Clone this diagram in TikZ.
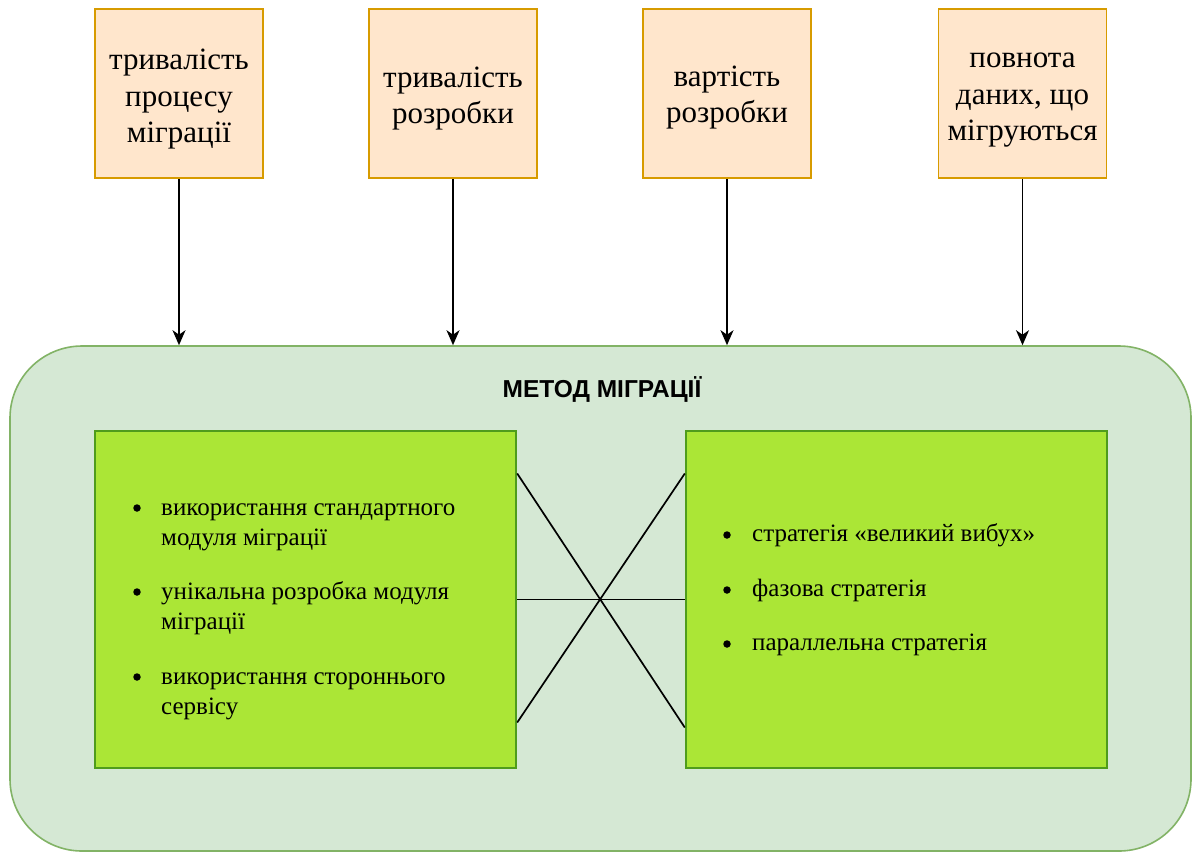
\documentclass[tikz,border=0pt]{standalone}
\usepackage{fontspec}
\setmainfont{Liberation Serif}
\setsansfont{Liberation Sans}
\usetikzlibrary{arrows.meta,calc}
\definecolor{orfill}{HTML}{FFE6CC}
\definecolor{ordraw}{HTML}{D79B00}
\definecolor{cfill}{HTML}{D5E8D4}
\definecolor{cdraw}{HTML}{82B366}
\definecolor{gfill}{HTML}{ABE636}
\definecolor{gdraw}{HTML}{4F9C1C}
\tikzset{
  factor/.style={draw=ordraw,fill=orfill,line width=1.6pt,minimum width=168pt,minimum height=169pt,inner sep=0pt},
  factortext/.style={inner sep=0pt,align=center,font=\fontsize{31}{36.5}\selectfont},
  container/.style={draw=cdraw,fill=cfill,line width=1.6pt,rounded corners=72pt,minimum width=1181pt,minimum height=505pt,inner sep=0pt},
  greenbox/.style={draw=gdraw,fill=gfill,line width=2.4pt,minimum width=421pt,minimum height=337pt,inner sep=0pt},
  itemline/.style={anchor=base west,inner sep=0pt,font=\fontsize{25}{30}\selectfont},
  bul/.style={circle,fill=black,minimum size=7.5pt,inner sep=0pt},
  arr/.style={line width=1.7pt,-{Stealth[length=15pt,width=13pt,inset=4.5pt]}},
  link/.style={line width=1.7pt}
}
\begin{document}
\begin{tikzpicture}[x=1pt,y=-1pt]
\useasboundingbox (0,0) rectangle (1193,852);
\node[container] (C) at (600.5,598.5) {};
\node[font=\sffamily\bfseries\fontsize{24.5}{29}\selectfont,inner sep=0pt] (title) at (602,389) {МЕТОД МІГРАЦІЇ};
\node[factor] (t1) at (179,93.5) {};
\node[factor] (t2) at (453,93.5) {};
\node[factor] (t3) at (727,93.5) {};
\node[factor] (t4) at (1022.5,93.5) {};
\node[factortext] (t1x) at ([yshift=-6pt]t1.center) {тривалість\\процесу\\міграції};
\node[factortext] (t2x) at ([yshift=-5pt]t2.center) {тривалість\\розробки};
\node[factortext] (t3x) at ([yshift=-4pt]t3.center) {вартість\\розробки};
\node[factortext] (t4x) at ([yshift=-7pt]t4.center) {повнота\\даних, що\\мігруються};
\foreach \t in {t1,t2,t3,t4}{
  \draw[arr] (\t.south) -- (\t.south |- C.north);
}
\node[greenbox] (L) at (305.5,599.5) {};
\node[greenbox] (R) at (896.5,599.5) {};
\draw[link] ([yshift=126pt]L.east) -- ([yshift=-128pt]R.west);
\draw[link] (L.east) -- (R.west);
\draw[link] ([yshift=-123pt]L.east) -- ([yshift=126pt]R.west);
% left list
\node[bul] (lb1) at (137,508) {};
\node[itemline] (li1a) at (161,515) {використання стандартного};
\node[itemline] (li1b) at (161,545) {модуля міграції};
\node[bul] (lb2) at (137,592) {};
\node[itemline] (li2a) at (161,599) {унікальна розробка модуля};
\node[itemline] (li2b) at (161,629) {міграції};
\node[bul] (lb3) at (137,677) {};
\node[itemline] (li3a) at (161,684) {використання стороннього};
\node[itemline] (li3b) at (161,714) {сервісу};
% right list
\node[bul] (rb1) at (727,535) {};
\node[itemline] (ri1) at (752,541) {стратегія «великий вибух»};
\node[bul] (rb2) at (727,590) {};
\node[itemline] (ri2) at (752,596) {фазова стратегія};
\node[bul] (rb3) at (727,644) {};
\node[itemline] (ri3) at (752,650) {параллельна стратегія};
\end{tikzpicture}
\end{document}
